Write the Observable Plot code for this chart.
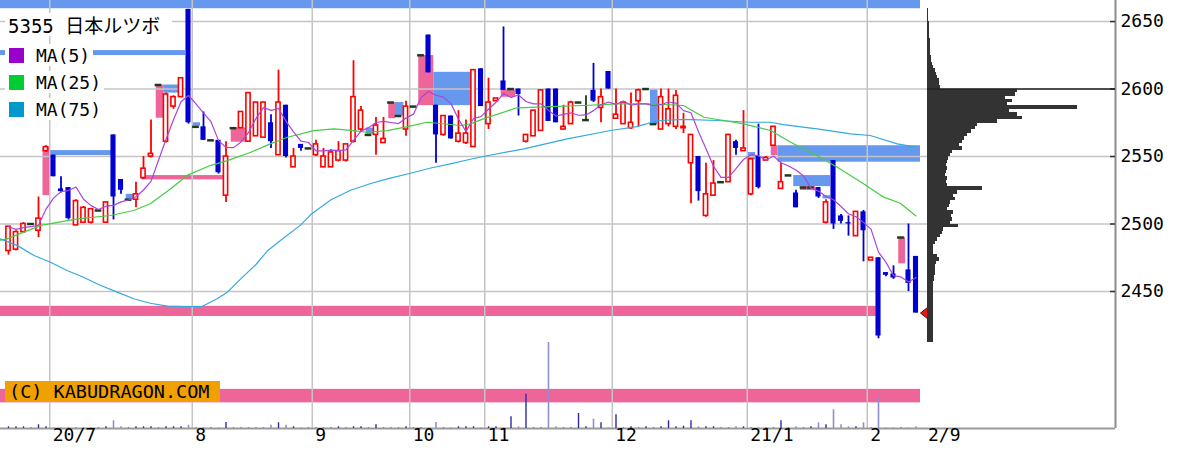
<!DOCTYPE html>
<html><head><meta charset="utf-8">
<script src="https://cdn.jsdelivr.net/npm/d3@7"></script>
<script src="https://cdn.jsdelivr.net/npm/@observablehq/plot@0.6"></script>
<style>
body{margin:0;background:#fff;}
#wrap{position:relative;width:1200px;height:452px;overflow:hidden;background:#fff;}
#wrap svg{position:absolute;left:0;top:0;}
.box{position:absolute;background:#fff;font-family:"DejaVu Sans Mono","Noto Sans CJK JP",monospace;color:#000;white-space:nowrap;display:flex;align-items:center;}
.sq{width:15px;height:15px;display:inline-block;margin-right:12px;flex:none;}
</style></head><body>
<div id="wrap"></div>
<script>
// ---- candles (one per traded day, 2020/6 .. 2021/2/9) ----
const openP = [
2480,2481,2494,2500,2495,2554,2551,2526,2527,2499,
2501,2501,2510,2501,2566,2533,2518,2518,2534,2550,
2603,2561,2587,2594,2659,2572,2572,2562,2562,2521,
2571,2571,2561,2565,2564,2575,2551,2588,2542,2559,
2556,2551,2542,2542,2547,2547,2561,2570,2566,2566,
2560,2590,2580,2570,2587,2625,2640,2588,2566,2580,
2561,2560,2557,2615,2574,2591,2606,2600,2600,2561,
2565,2569,2600,2600,2570,2574,2590,2577,2599,2586,
2613,2578,2574,2571,2591,2600,2574,2570,2574,2572,
2571,2545,2550,2506,2521,2531,2531,2561,2554,2522,
2550,2547,2558,2526,2536,2523,2527,2527,2527,2501,
2547,2506,2501,2491,2509,2473,2475,2464,2463,2490,
2466,2476];
const highP = [
2498,2495,2501,2500,2520,2558,2551,2535,2527,2518,
2513,2511,2510,2516,2566,2533,2518,2531,2550,2577,
2603,2597,2595,2608,2659,2572,2583,2562,2562,2561,
2571,2583,2597,2590,2590,2581,2614,2588,2556,2559,
2556,2562,2556,2555,2561,2559,2621,2587,2566,2579,
2579,2590,2580,2591,2587,2625,2640,2588,2580,2580,
2584,2577,2614,2615,2608,2593,2646,2600,2600,2566,
2584,2599,2600,2600,2588,2591,2590,2595,2619,2600,
2613,2600,2590,2597,2600,2600,2574,2600,2600,2599,
2582,2566,2550,2545,2547,2531,2566,2562,2584,2548,
2574,2550,2572,2545,2536,2525,2527,2527,2527,2518,
2547,2507,2506,2509,2510,2475,2475,2464,2469,2490,
2500,2476];
const lowP = [
2477,2480,2493,2500,2490,2553,2535,2523,2503,2499,
2501,2500,2510,2501,2503,2522,2518,2512,2533,2549,
2603,2560,2585,2594,2574,2572,2562,2562,2537,2516,
2571,2571,2561,2565,2564,2556,2551,2549,2542,2554,
2556,2550,2542,2542,2546,2546,2560,2568,2566,2551,
2560,2590,2580,2565,2587,2625,2612,2545,2565,2563,
2560,2559,2557,2587,2570,2591,2599,2600,2580,2560,
2565,2569,2576,2575,2570,2574,2590,2577,2590,2575,
2600,2578,2574,2570,2572,2600,2574,2570,2572,2570,
2567,2515,2517,2505,2521,2531,2531,2551,2554,2521,
2526,2547,2558,2526,2536,2512,2527,2527,2519,2500,
2496,2500,2491,2491,2472,2473,2415,2461,2459,2490,
2450,2434];
const closeP = [
2498,2494,2500,2500,2504,2557,2535,2524,2504,2517,
2512,2511,2510,2516,2520,2525,2518,2522,2541,2552,
2603,2596,2594,2608,2575,2572,2562,2562,2538,2550,
2571,2583,2597,2590,2590,2561,2590,2550,2550,2556,
2556,2559,2550,2553,2554,2559,2594,2584,2566,2573,
2563,2590,2580,2587,2587,2625,2612,2566,2580,2563,
2567,2567,2614,2587,2590,2593,2599,2600,2596,2566,
2584,2599,2576,2575,2572,2590,2590,2577,2591,2594,
2600,2581,2590,2575,2599,2600,2574,2594,2585,2595,
2572,2566,2524,2522,2530,2531,2566,2556,2556,2548,
2527,2549,2572,2531,2536,2512,2527,2527,2520,2516,
2500,2502,2500,2509,2495,2475,2417,2462,2460,2490,
2456,2434];
// volume (hundreds of shares)
const volume = [
17,17,17,5,37,17,5,5,10,5,
5,5,5,17,77,17,5,17,17,17,
5,17,17,17,33,5,10,5,5,60,
5,5,5,5,5,33,57,33,17,5,
5,5,5,5,17,5,17,17,5,37,
5,5,5,17,5,5,5,60,5,5,
17,17,17,5,17,17,5,117,17,343,
5,5,860,17,5,5,150,17,93,57,
5,137,5,17,5,17,5,17,77,17,
23,77,17,17,17,5,5,17,17,5,
5,5,5,77,5,17,5,17,57,37,
187,37,17,17,57,5,307,5,5,5,
5,17];

// moving averages (candle index, price)
const ma25Idx = [-1.1,-0.2,4.3,9.2,13.6,16.7,18.9,21.6,23.8,26.9,29.2,32.3,34.9,37.2,40.7,43.4,46,47.8,50.5,53.2,55.8,60.3,61.6,63.3,67.8,72.3,76.7,81.2,85.6,90,92.7,95.4,98,101.6,104.3,107.8,110.5,114,116.7,118.9,121];
const ma25Val = [2488,2489,2499,2503.8,2506.3,2510,2515,2526,2536,2543.3,2547,2553.2,2559.4,2564.3,2569.2,2570.5,2569.2,2568,2569.2,2572.2,2575.4,2573,2574.2,2577.9,2586.1,2587,2587.8,2589,2589,2587.8,2579.1,2576.7,2574.2,2569.3,2560.6,2550.7,2542.1,2529.8,2519.9,2515.4,2506];
const ma75Idx = [-1.1,1.2,3.4,5.6,7.8,10,12.3,14.5,16.7,18.9,21.2,23.4,25.8,27.8,29.2,30.9,33,34.5,36.3,38.9,40.3,43,45.6,48.3,50.9,53.6,56.3,58.9,61.6,63.3,68.7,74.5,80.3,83.8,86.5,90,94.5,98.9,101.6,103.3,107.8,112.3,114.9,118.5,121];
const ma75Val = [2489,2484,2476.7,2471.7,2465.6,2460.6,2454.4,2449.5,2444.6,2441.3,2439.1,2438.9,2438.9,2444.6,2449.5,2459,2470,2480,2488,2499,2507,2518,2525,2530,2534,2537.6,2541.5,2544.5,2548,2550,2555.7,2563.1,2569.3,2572.2,2576.5,2577.6,2576.7,2575.4,2575.4,2573.7,2570.5,2566.8,2565.6,2559.4,2557];

// price gaps (windows): start / end candle index, low / high price
const gapStart = [-1.1,-1.1,4.6,5.6,15.7,17.8,19.7,20.7,24.6,29.7,47.7,50.7,51.6,54.7,56.7,65.7,85.6,98.6,101.7,102.6,104.7,105.6,108.6,118.7,-1.1,-1.1];
const gapEnd   = [121.6,23.6,5.6,13.9,16.7,28.7,20.7,22.7,25.6,31.8,48.7,51.6,52.7,56.7,61.8,67.6,86.6,99.6,102.6,121.6,109.6,107.6,109.6,119.6,115.7,121.6];
const gapLow   = [2659.5,2624.8,2521,2550.7,2518,2532.7,2578.4,2597,2572.5,2560.6,2566.5,2578,2580,2587.7,2587.7,2593.9,2573.7,2547.5,2550.7,2545.8,2527.7,2524.8,2518.6,2470.5,2431.5,2367.5];
const gapHigh  = [2670,2628.5,2557,2554.4,2522,2535.9,2603,2603,2575,2571.2,2571,2590,2590,2624.8,2612.4,2599.3,2599.6,2553,2558,2558,2535.9,2527.7,2521,2490,2439,2377.5];
const gapDir   = ["down","down","up","down","down","up","up","down","down","up","down","up","down","up","down","up","down","down","up","down","down","up","down","up","up","up"];

// price-by-volume profile: bin top price (2.5 yen bins) and size
const profTop = d3.range(2660, 2414, -2.5);
const profVol = [
1,1,1.3,1.3,1.5,1.7,2,2,2.3,2.5,
2.7,2.8,3,3.2,3.5,4,4.5,6,7.5,9,
10,11.5,12,12.5,90,88,78,85,80,150,
82,90,95,70,50,48,44,40,37,35,
32,35,25,23,21,20,19,20,19,18,
20,19,20,55,30,26,28,23,22,20,
26,24,25,23,31,16,15,13,10,8,
6,6,6,10,12,9,8,8,8,7,
7,6,6,6,6,6,6,6,6,6,
6,6,6,6,6,6,6,6,6];
const pocPrice = 2600;

// ticks
const yTicks = [2450, 2500, 2550, 2600, 2650];
const monthIdx = [6, 25, 41, 54, 64, 81, 99, 115];
const monthLabel = ["20/7", "8", "9", "10", "11", "12", "21/1", "2"];
const lastLabel = "2/9";

// ---------------- build ----------------
const candles = closeP.map((c, i) => ({i, open: openP[i], high: highP[i], low: lowP[i], close: c, vol: volume[i]}));
const up = candles.filter(d => d.close > d.open);
const down = candles.filter(d => d.close < d.open);
const doji = candles.filter(d => d.close === d.open);
const gaps = gapStart.map((s, k) => ({s, e: gapEnd[k], lo: gapLow[k], hi: gapHigh[k], dir: gapDir[k]}));
const ma25 = ma25Idx.map((x, k) => ({x, y: ma25Val[k]}));
const ma75 = ma75Idx.map((x, k) => ({x, y: ma75Val[k]}));
const months = monthIdx.map((i, k) => ({i, label: monthLabel[k]}));
const profile = profTop.map((p, k) => ({p, v: profVol[k]}));
const last = candles[candles.length - 1];

const xDomain = [(0 - 8) / 7.5, (1115 - 8) / 7.5];
const yDomain = [2348.5, 2665.6];
const FONT = "DejaVu Sans Mono";
const base = {width: 1200, height: 452, marginLeft: 0, marginRight: 85, marginTop: 0, marginBottom: 24};

const RED = "#ff0000", BLUE = "#0000d0", DOJI = "#1e3a1e";
const PINK = "#ee6699", GAPBLUE = "#6699ee";

const leftTri = {draw(ctx) { ctx.moveTo(-5, 0); ctx.lineTo(5, -8); ctx.lineTo(5, 8); ctx.closePath(); }};

const main = Plot.plot({
  ...base,
  x: {domain: xDomain, range: [0, 1115], axis: null},
  y: {domain: yDomain, range: [428, 0], axis: null},
  style: {fontFamily: FONT, fontSize: "18px", background: "white", color: "#000"},
  marks: [
    Plot.rect(gaps.filter(d => d.dir === "up"), {x1: "s", x2: "e", y1: "lo", y2: "hi", fill: PINK, clip: true}),
    Plot.rect(gaps.filter(d => d.dir === "down"), {x1: "s", x2: "e", y1: "lo", y2: "hi", fill: GAPBLUE, clip: true}),
    Plot.ruleY(yTicks, {stroke: "#c4c4c4", strokeWidth: 1.5}),
    Plot.ruleX(months, {x: d => d.i - 0.5, stroke: "#c4c4c4", strokeWidth: 1.5}),
    Plot.ruleX([xDomain[1]], {stroke: "#8c8c8c", strokeWidth: 2}),
    Plot.ruleY([yDomain[0]], {stroke: "#9a9a9a", strokeWidth: 2}),
    Plot.ruleY(yTicks, {x1: xDomain[1] - 5 / 7.5, x2: xDomain[1], stroke: "#333", strokeWidth: 1.5}),
    Plot.text(yTicks, {y: d => d, text: d => String(d), frameAnchor: "right", textAnchor: "start", dx: 5, fontSize: 18, fontFamily: FONT, fill: "#000"}),
    Plot.text(months, {x: d => d.i - 0.5, text: "label", frameAnchor: "bottom", dy: 12, dx: 3, textAnchor: "start", fontSize: 18, fontFamily: FONT, fill: "#000"}),
    Plot.text([last], {x: "i", text: () => lastLabel, frameAnchor: "bottom", dy: 12, dx: 12, textAnchor: "start", fontSize: 18, fontFamily: FONT, fill: "#000"}),
    // wicks
    Plot.ruleX(up, {x: "i", y1: "low", y2: "high", stroke: RED, strokeWidth: 1.8}),
    Plot.ruleX(down, {x: "i", y1: "low", y2: "high", stroke: BLUE, strokeWidth: 1.8}),
    Plot.ruleX(doji, {x: "i", y1: "low", y2: "high", stroke: DOJI, strokeWidth: 1.8}),
    // bodies
    Plot.rect(up, {x1: d => d.i - 0.28, x2: d => d.i + 0.28, y1: "open", y2: "close", fill: "white", stroke: RED, strokeWidth: 1.6}),
    Plot.rect(down, {x1: d => d.i - 0.34, x2: d => d.i + 0.34, y1: "open", y2: "close", fill: BLUE}),
    Plot.ruleY(doji, {y: "close", x1: d => d.i - 0.45, x2: d => d.i + 0.45, stroke: DOJI, strokeWidth: 2.5}),
    // moving averages
    Plot.line(ma75, {x: "x", y: "y", stroke: "#33aadd", strokeWidth: 1.2}),
    Plot.line(ma25, {x: "x", y: "y", stroke: "#44cc44", strokeWidth: 1.2}),
    Plot.lineY(candles, Plot.windowY({k: 5, anchor: "end"}, {x: "i", y: "close", stroke: "#aa44dd", strokeWidth: 1.2})),
    // last price marker
    Plot.dot([last], {x: "i", y: "close", dx: 9.5, symbol: leftTri, r: 6, fill: "#ff1010", stroke: "#222", strokeWidth: 1})
  ]
});

const vol = Plot.plot({
  ...base,
  x: {domain: xDomain, range: [0, 1115], axis: null},
  y: {domain: [0, 1000], range: [428, 328], axis: null},
  style: {background: "transparent"},
  marks: [
    Plot.ruleX(candles.filter(d => d.close >= d.open), {x: "i", y1: 0, y2: "vol", stroke: "#2b2ba6", strokeWidth: 1.4}),
    Plot.ruleX(candles.filter(d => d.close < d.open), {x: "i", y1: 0, y2: "vol", stroke: "#8f8fd0", strokeWidth: 1.6})
  ]
});

const prof = Plot.plot({
  ...base,
  x: {domain: [0, 188], range: [927, 1115], axis: null},
  y: {domain: yDomain, range: [428, 0], axis: null},
  style: {background: "transparent"},
  marks: [
    Plot.rect(profile, {x1: 0, x2: "v", y1: d => d.p - 2.8, y2: "p", fill: "#333333", shapeRendering: "crispEdges"}),
    Plot.ruleY([pocPrice], {x1: 0, x2: 188, stroke: "#222", strokeWidth: 1.5})
  ]
});

const wrap = document.getElementById("wrap");
wrap.append(main, vol, prof);

const overlay = `
<div class="box" style="left:5px;top:13px;height:23px;padding:0 12px 0 3px;font-size:19px;">5355 日本ルツボ</div>
<div class="box" style="left:5px;top:44px;height:22px;padding:0 3px 0 4px;font-size:18px;"><span class="sq" style="background:#9900cc"></span>MA(5)</div>
<div class="box" style="left:5px;top:71px;height:22px;padding:0 3px 0 4px;font-size:18px;"><span class="sq" style="background:#00cc33"></span>MA(25)</div>
<div class="box" style="left:5px;top:98px;height:22px;padding:0 3px 0 4px;font-size:18px;"><span class="sq" style="background:#0099cc"></span>MA(75)</div>
<div class="box" style="left:5px;top:381px;height:21px;width:211px;padding-left:4px;font-size:18.5px;background:#f0a000;">(C) KABUDRAGON.COM</div>`;
wrap.insertAdjacentHTML("beforeend", overlay);
</script>
</body></html>
